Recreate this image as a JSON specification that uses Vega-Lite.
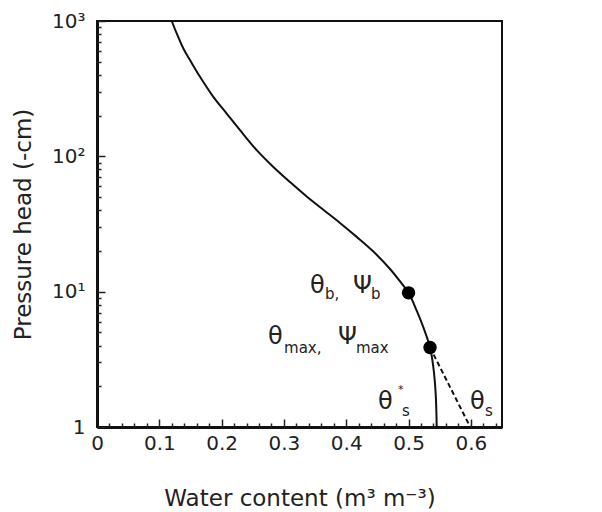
{
  "$schema": "https://vega.github.io/schema/vega-lite/v6.json",
  "width": 405,
  "height": 406,
  "autosize": "none",
  "padding": {"left": 97, "top": 21, "right": 100, "bottom": 85},
  "background": "white",
  "config": {
    "view": {"stroke": "#111", "strokeWidth": 2},
    "font": "DejaVu Sans"
  },
  "datasets": {
    "curve": [
      {"i": 1, "theta": 0.1199, "psi": 1000},
      {"i": 2, "theta": 0.1279, "psi": 810},
      {"i": 3, "theta": 0.1386, "psi": 627},
      {"i": 4, "theta": 0.1493, "psi": 514},
      {"i": 5, "theta": 0.1653, "psi": 387},
      {"i": 6, "theta": 0.1867, "psi": 275},
      {"i": 7, "theta": 0.2081, "psi": 207},
      {"i": 8, "theta": 0.2295, "psi": 156},
      {"i": 9, "theta": 0.2563, "psi": 111},
      {"i": 10, "theta": 0.283, "psi": 83.4},
      {"i": 11, "theta": 0.3098, "psi": 64.5},
      {"i": 12, "theta": 0.3365, "psi": 50.5},
      {"i": 13, "theta": 0.3633, "psi": 40.3},
      {"i": 14, "theta": 0.39, "psi": 32.2},
      {"i": 15, "theta": 0.4168, "psi": 25.4},
      {"i": 16, "theta": 0.4435, "psi": 19.8},
      {"i": 17, "theta": 0.4703, "psi": 14.7},
      {"i": 18, "theta": 0.4864, "psi": 11.9},
      {"i": 19, "theta": 0.5, "psi": 9.8},
      {"i": 20, "theta": 0.5131, "psi": 7.23},
      {"i": 21, "theta": 0.5238, "psi": 5.44},
      {"i": 22, "theta": 0.5345, "psi": 3.87},
      {"i": 23, "theta": 0.5399, "psi": 2.75},
      {"i": 24, "theta": 0.5436, "psi": 1.75},
      {"i": 25, "theta": 0.5452, "psi": 1}
    ],
    "dashed": [
      {"theta": 0.5345, "psi": 3.87},
      {"theta": 0.599, "psi": 1}
    ],
    "points": [
      {"theta": 0.5, "psi": 9.8},
      {"theta": 0.5345, "psi": 3.87}
    ],
    "greek": [
      {"theta": 0.3419, "psi": 9.83, "label": "θ"},
      {"theta": 0.4109, "psi": 9.83, "label": "Ψ"},
      {"theta": 0.2745, "psi": 4.12, "label": "θ"},
      {"theta": 0.3868, "psi": 4.12, "label": "Ψ"},
      {"theta": 0.451, "psi": 1.36, "label": "θ"},
      {"theta": 0.5987, "psi": 1.36, "label": "θ"}
    ],
    "subs": [
      {"theta": 0.366, "psi": 8.87, "label": "b,"},
      {"theta": 0.4398, "psi": 8.87, "label": "b"},
      {"theta": 0.3002, "psi": 3.53, "label": "max,"},
      {"theta": 0.4157, "psi": 3.53, "label": "max"},
      {"theta": 0.4896, "psi": 1.206, "label": "s"},
      {"theta": 0.6228, "psi": 1.206, "label": "s"}
    ],
    "star": [
      {"theta": 0.4831, "psi": 1.787, "label": "*"}
    ]
  },
  "resolve": {"axis": {"x": "independent", "y": "independent"}},
  "layer": [
    {
      "data": {"name": "curve"},
      "mark": {"type": "line", "color": "#111", "strokeWidth": 2, "interpolate": "catmull-rom"},
      "encoding": {
        "x": {
          "field": "theta",
          "type": "quantitative",
          "scale": {"domain": [0, 0.65], "nice": false, "zero": false},
          "axis": {
            "orient": "bottom",
            "title": "Water content (m³ m⁻³)",
            "values": [0, 0.1, 0.2, 0.3, 0.4, 0.5, 0.6],
            "labelExpr": "datum.value==0 ? '0' : format(datum.value, '.1f')",
            "ticks": false,
            "domainColor": "#111",
            "domainWidth": 3,
            "grid": false,
            "labelFontSize": 20,
            "labelColor": "#222",
            "labelPadding": 6,
            "labelFlush": false,
            "labelOverlap": false,
            "titleFontSize": 23,
            "titleFontWeight": "normal",
            "titleColor": "#222",
            "titlePadding": 34
          }
        },
        "y": {
          "field": "psi",
          "type": "quantitative",
          "scale": {"type": "log", "domain": [1, 1000], "nice": false},
          "axis": {
            "orient": "left",
            "title": "Pressure head (-cm)",
            "values": [1, 10, 100, 1000],
            "labelExpr": "datum.value==1 ? '1' : datum.value==10 ? '10¹' : datum.value==100 ? '10²' : '10³'",
            "ticks": false,
            "domainColor": "#111",
            "domainWidth": 3,
            "grid": false,
            "labelFontSize": 20,
            "labelColor": "#222",
            "labelPadding": 12,
            "labelFlush": false,
            "labelOverlap": false,
            "titleFontSize": 23,
            "titleFontWeight": "normal",
            "titleColor": "#222",
            "titlePadding": 16
          }
        },
        "order": {"field": "i", "type": "quantitative"}
      }
    },
    {
      "data": {"name": "dashed"},
      "mark": {"type": "line", "color": "#111", "strokeWidth": 2, "strokeDash": [5, 3]},
      "encoding": {
        "x": {
          "field": "theta",
          "type": "quantitative",
          "axis": {
            "orient": "top",
            "offset": -406,
            "title": null,
            "labels": false,
            "domain": false,
            "grid": false,
            "ticks": true,
            "tickCount": 200,
            "values": [0, 0.02, 0.04, 0.06, 0.08, 0.1, 0.12, 0.14, 0.16, 0.18, 0.2, 0.22, 0.24, 0.26, 0.28, 0.3, 0.32, 0.34, 0.36, 0.38, 0.4, 0.42, 0.44, 0.46, 0.48, 0.5, 0.52, 0.54, 0.56, 0.58, 0.6, 0.62, 0.64],
            "tickSize": {"condition": {"test": "abs(datum.value*10-round(datum.value*10))<0.001", "value": 8}, "value": 4},
            "tickColor": "#222",
            "tickWidth": 1.5
          }
        },
        "y": {
          "field": "psi",
          "type": "quantitative",
          "axis": {
            "orient": "right",
            "offset": -405,
            "title": null,
            "labels": false,
            "domain": false,
            "grid": false,
            "ticks": true,
            "tickCount": 200,
            "values": [1, 2, 3, 4, 5, 6, 7, 8, 9, 10, 20, 30, 40, 50, 60, 70, 80, 90, 100, 200, 300, 400, 500, 600, 700, 800, 900, 1000],
            "tickSize": {"condition": {"test": "datum.value==1 || datum.value==10 || datum.value==100 || datum.value==1000", "value": 8}, "value": 4},
            "tickColor": "#222",
            "tickWidth": 1.5
          }
        }
      }
    },
    {
      "data": {"name": "points"},
      "mark": {"type": "circle", "color": "#000", "opacity": 1, "size": 180},
      "encoding": {
        "x": {"field": "theta", "type": "quantitative", "axis": null},
        "y": {"field": "psi", "type": "quantitative", "axis": null}
      }
    },
    {
      "data": {"name": "greek"},
      "mark": {"type": "text", "align": "left", "baseline": "alphabetic", "fontSize": 24, "color": "#222"},
      "encoding": {
        "x": {"field": "theta", "type": "quantitative", "axis": null},
        "y": {"field": "psi", "type": "quantitative", "axis": null},
        "text": {"field": "label"}
      }
    },
    {
      "data": {"name": "subs"},
      "mark": {"type": "text", "align": "left", "baseline": "alphabetic", "fontSize": 15, "color": "#222"},
      "encoding": {
        "x": {"field": "theta", "type": "quantitative", "axis": null},
        "y": {"field": "psi", "type": "quantitative", "axis": null},
        "text": {"field": "label"}
      }
    },
    {
      "data": {"name": "star"},
      "mark": {"type": "text", "align": "left", "baseline": "alphabetic", "fontSize": 11, "color": "#222"},
      "encoding": {
        "x": {"field": "theta", "type": "quantitative", "axis": null},
        "y": {"field": "psi", "type": "quantitative", "axis": null},
        "text": {"field": "label"}
      }
    }
  ]
}
